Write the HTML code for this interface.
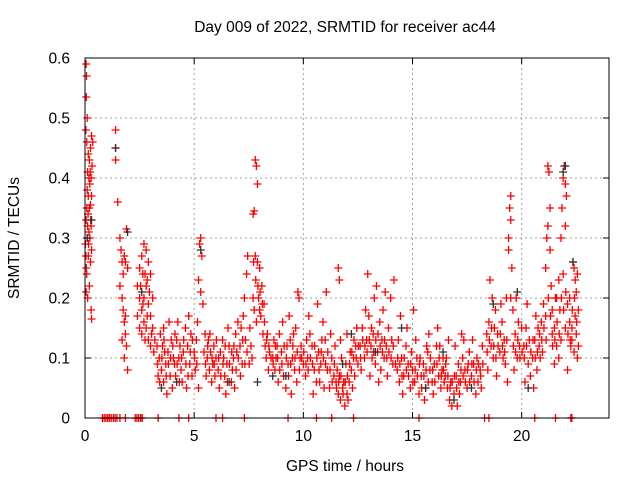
<!DOCTYPE html>
<html><head><meta charset="utf-8"><style>
html,body{margin:0;padding:0;background:#fff;}
svg{display:block;font-family:"Liberation Sans",sans-serif;}
</style></head><body>
<svg id="chart" width="640" height="480">
<text x="345" y="32" font-size="15.5" text-anchor="middle">Day 009 of 2022, SRMTID for receiver ac44</text>
<text x="345" y="471" font-size="15.5" text-anchor="middle">GPS time / hours</text>
<text x="19" y="238" font-size="15.5" text-anchor="middle" transform="rotate(-90 19 238)">SRMTID / TECUs</text>
<g id="grid"></g>
<g id="ticks"></g>
<g id="red"></g>
<g id="black"></g>
<rect x="85" y="58" width="524" height="360" fill="none" stroke="#000" stroke-width="1"/>
</svg>
<script>
const xTicks=[0,5,10,15,20];
const yTicks=[0,0.1,0.2,0.3,0.4,0.5,0.6];
const yTickLabels=["0","0.1","0.2","0.3","0.4","0.5","0.6"];
const redPts=[[0.05,.59],[0.07,.57],[0.06,.535],[0.04,.48],[0.1,.5],[0.08,.46],[0.15,.44],[0.2,.43],[0.25,.45],[0.3,.47],[0.12,.41],[0.18,.40],[0.22,.39],[0.28,.40],[0.1,.38],[0.15,.37],[0.3,.37],[0.08,.35],[0.2,.35],[0.25,.355],[0.05,.33],[0.12,.32],[0.18,.31],[0.28,.32],[0.1,.30],[0.22,.30],[0.3,.28],[0.04,.27],[0.15,.27],[0.25,.26],[0.08,.24],[0.2,.22],[0.05,.21],[0.12,.20],[0.28,.18],[0.3,.165],[0.02,.29],[0.35,.46],
[1.4,.48],[1.4,.45],[1.4,.43],[1.5,.36],
[1.6,.30],[1.65,.28],[1.7,.26],[1.75,.24],[1.8,.27],[1.85,.26],[1.9,.315],[1.95,.25],[1.6,.22],[1.7,.2],[1.75,.18],[1.8,.16],[1.85,.14],[1.9,.12],[1.8,.10],[1.95,.08],[1.7,.13],[1.85,.17],
[2.4,.22],[2.5,.25],[2.6,.27],[2.7,.29],[2.8,.28],[2.9,.26],[3.0,.24],[2.5,.2],[2.6,.18],[2.7,.2],[2.8,.22],[2.9,.19],[3.0,.17],[3.1,.15],[2.5,.15],[2.6,.14],[2.7,.16],[2.8,.15],[2.9,.13],[3.1,.2],[3.2,.13],[3.0,.12],[2.4,.17],[2.65,.24],[2.85,.23],
[3.3,.12],[3.4,.10],[3.5,.08],[3.6,.06],[3.7,.09],[3.8,.11],[3.9,.07],[4.0,.05],[4.1,.09],[4.2,.13],[4.3,.1],[4.4,.08],[3.45,.14],[3.55,.12],[3.65,.11],[3.75,.04],[3.85,.16],[3.95,.13],[4.05,.1],[4.15,.07],[4.25,.16],[4.35,.12],[4.45,.06],[3.35,.07],[4.5,.11],[3.6,.15],
[4.6,.15],[4.7,.12],[4.8,.09],[4.9,.07],[5.0,.11],[5.1,.13],[5.2,.23],[5.25,.29],[5.3,.30],[5.35,.27],[5.3,.21],[5.4,.19],[5.5,.14],[5.6,.1],[5.7,.08],[5.8,.06],[5.9,.12],[6.0,.1],[4.65,.05],[4.85,.14],[5.05,.08],[5.15,.16],[5.45,.11],[5.55,.07],[5.65,.13],[5.75,.11],[5.85,.09],[5.95,.07],[4.75,.17],[5.2,.05],
[6.1,.08],[6.2,.11],[6.3,.13],[6.4,.07],[6.5,.09],[6.6,.12],[6.7,.06],[6.8,.1],[6.9,.14],[7.0,.16],[7.1,.12],[7.2,.09],[7.3,.2],[7.4,.24],[7.45,.27],[6.15,.05],[6.35,.1],[6.55,.15],[6.75,.08],[6.95,.11],[7.15,.15],[7.35,.13],[6.45,.04],[7.25,.17],[6.85,.05],
[7.7,.34],[7.75,.345],[7.8,.43],[7.85,.42],[7.9,.39],[7.8,.27],[7.9,.26],[8.0,.25],[8.1,.22],[8.2,.19],[7.7,.2],[7.75,.18],[7.85,.16],[7.95,.2],[8.05,.17],[8.15,.14],[8.25,.12],[8.3,.1],[8.4,.08],[7.6,.12],[7.65,.1],[8.35,.14],[8.45,.11],[7.55,.15],[8.0,.18],
[8.6,.1],[8.7,.08],[8.8,.12],[8.9,.14],[9.0,.11],[9.1,.07],[9.2,.05],[9.3,.09],[9.4,.13],[9.5,.1],[9.6,.08],[9.7,.06],[9.75,.21],[9.8,.2],[9.9,.12],[10.0,.09],[8.65,.13],[8.85,.06],[9.05,.16],[9.25,.12],[9.45,.04],[9.65,.15],[9.85,.1],[8.75,.1],[9.35,.17],[9.55,.14],
[10.1,.07],[10.2,.1],[10.3,.14],[10.4,.12],[10.5,.08],[10.6,.06],[10.7,.11],[10.8,.09],[10.9,.16],[11.0,.13],[11.1,.08],[11.2,.05],[11.3,.1],[11.4,.07],[10.25,.17],[10.45,.04],[10.65,.19],[10.85,.13],[11.05,.21],[11.25,.14],[11.45,.12],[10.15,.13],[10.75,.06],[10.95,.05],
[11.5,.06],[11.6,.04],[11.7,.03],[11.8,.05],[11.9,.02],[12.0,.04],[12.1,.06],[12.2,.08],[12.3,.1],[12.4,.12],[11.55,.08],[11.65,.07],[11.75,.1],[11.85,.06],[11.95,.09],[12.05,.03],[12.15,.11],[12.25,.05],[12.35,.07],[12.45,.15],[11.6,.25],[11.65,.23],[12.0,.14],[11.7,.13],[12.5,.09],
[12.6,.12],[12.7,.15],[12.8,.1],[12.9,.13],[13.0,.17],[13.1,.12],[13.2,.14],[13.3,.09],[13.4,.11],[13.5,.16],[13.6,.13],[13.7,.1],[13.8,.12],[13.9,.15],[14.0,.2],[14.1,.09],[12.65,.08],[12.85,.18],[13.05,.07],[13.25,.2],[13.45,.06],[13.65,.18],[13.85,.07],[14.05,.13],[12.95,.24],[13.35,.22],[13.75,.21],[13.15,.1],[13.55,.08],[14.15,.23],
[14.3,.08],[14.4,.06],[14.5,.1],[14.6,.07],[14.7,.12],[14.8,.09],[14.9,.05],[15.0,.08],[15.1,.06],[15.2,.1],[15.3,.04],[15.4,.07],[15.5,.09],[15.6,.05],[15.7,.11],[15.8,.08],[15.9,.06],[16.0,.09],[16.1,.12],[16.2,.07],[16.3,.05],[16.4,.1],[14.35,.13],[14.55,.04],[14.75,.15],[14.95,.11],[15.15,.13],[15.35,.1],[15.55,.03],[15.75,.14],[15.95,.04],[16.15,.15],[16.35,.08],[14.45,.17],[15.05,.18],[15.65,.12],[16.25,.12],[16.45,.06],
[16.5,.07],[16.6,.05],[16.7,.03],[16.8,.02],[16.9,.04],[17.0,.07],[17.1,.09],[17.2,.06],[17.3,.1],[17.4,.08],[17.5,.05],[17.6,.11],[17.7,.07],[17.8,.09],[17.9,.04],[18.0,.06],[18.1,.08],[18.2,.12],[16.55,.1],[16.75,.06],[16.95,.12],[17.15,.04],[17.35,.13],[17.55,.09],[17.75,.13],[17.95,.1],[18.15,.05],[16.65,.13],[17.05,.02],[17.25,.14],
[18.4,.14],[18.5,.16],[18.6,.12],[18.7,.1],[18.8,.18],[18.9,.14],[19.0,.11],[19.1,.16],[19.2,.13],[19.3,.2],[19.4,.3],[19.45,.35],[19.5,.37],[19.4,.28],[19.5,.33],[19.55,.25],[19.6,.18],[19.7,.14],[19.8,.1],[19.9,.12],[20.0,.15],[18.45,.08],[18.65,.2],[18.85,.07],[19.05,.19],[19.25,.09],[19.35,.06],[19.65,.08],[19.85,.16],[18.55,.23],[18.75,.15],[19.15,.1],[19.5,.2],[19.75,.2],
[20.1,.12],[20.2,.15],[20.3,.09],[20.4,.07],[20.5,.1],[20.6,.13],[20.7,.08],[20.8,.12],[20.9,.16],[21.0,.19],[20.15,.06],[20.35,.13],[20.55,.05],[20.75,.15],[20.95,.11],[20.25,.19],[20.65,.17],[20.85,.1],
[21.1,.25],[21.15,.3],[21.2,.32],[21.25,.41],[21.2,.42],[21.3,.35],[21.3,.28],[21.35,.22],[21.4,.18],[21.5,.15],[21.6,.2],[21.7,.23],[21.8,.3],[21.85,.35],[21.9,.4],[21.95,.42],[22.0,.39],[22.05,.37],[22.0,.32],[21.9,.24],[21.8,.13],[21.7,.1],[21.6,.12],[21.5,.09],[21.4,.14],[21.1,.17],[22.1,.19],[22.0,.15],[21.75,.18],[22.1,.08],[21.55,.2],
[22.2,.2],[22.3,.15],[22.35,.26],[22.4,.25],[22.45,.23],[22.5,.21],[22.55,.24],[22.5,.14],[22.6,.12],[22.4,.11],[22.3,.13],[22.2,.16],[22.6,.18],[22.45,.17],[22.25,.12],[22.55,.1]];
const redExtra=[[0.14,.34],[0.24,.41],[0.16,.29],[0.26,.33],[0.06,.25],[0.32,.42],
[2.55,.22],[2.75,.24],[2.95,.21],[2.65,.19],[2.85,.17],[3.05,.14],[2.75,.13],[3.15,.11],
[3.32,.09],[3.42,.06],[3.52,.1],[3.62,.13],[3.72,.07],[3.82,.09],[3.92,.1],[4.02,.12],[4.12,.14],[4.22,.09],[4.32,.06],[4.42,.1],[4.52,.13],[4.62,.09],[4.72,.07],[4.82,.11],[4.92,.13],[5.02,.1],[5.12,.09],
[5.52,.09],[5.62,.12],[5.72,.14],[5.82,.1],[5.92,.09],[6.02,.13],[6.12,.1],[6.22,.07],[6.32,.09],[6.42,.12],[6.52,.06],[6.62,.09],[6.72,.11],[6.82,.12],[6.92,.08],[7.02,.1],[7.12,.07],[7.22,.13],[7.32,.09],[7.42,.11],[7.52,.09],
[7.72,.26],[7.82,.23],[7.92,.22],[8.02,.21],[8.12,.19],[8.22,.16],[8.32,.13],[8.42,.12],[8.52,.1],[8.62,.09],[8.72,.12],[8.82,.1],[8.92,.08],[9.02,.09],[9.12,.12],[9.22,.1],[9.32,.07],[9.42,.09],[9.52,.12],[9.62,.1],[9.72,.11],[9.82,.08],[9.92,.1],
[10.02,.11],[10.12,.09],[10.22,.08],[10.32,.1],[10.42,.09],[10.52,.12],[10.62,.1],[10.72,.08],[10.82,.11],[10.92,.1],[11.02,.09],[11.12,.11],[11.22,.08],[11.32,.06],[11.42,.09],
[11.52,.05],[11.62,.06],[11.72,.07],[11.82,.04],[11.92,.06],[12.02,.07],[12.12,.09],[12.22,.11],[12.32,.13],[12.42,.1],[12.52,.12],[12.62,.1],[12.72,.13],[12.82,.12],[12.92,.11],[13.02,.13],[13.12,.15],[13.22,.11],[13.32,.13],[13.42,.14],[13.52,.12],[13.62,.11],[13.72,.13],[13.82,.1],[13.92,.11],[14.02,.1],[14.12,.12],[14.22,.09],
[14.32,.1],[14.42,.09],[14.52,.07],[14.62,.1],[14.72,.08],[14.82,.07],[14.92,.09],[15.02,.06],[15.12,.08],[15.22,.07],[15.32,.09],[15.42,.05],[15.52,.07],[15.62,.08],[15.72,.06],[15.82,.1],[15.92,.08],[16.02,.06],[16.12,.09],[16.22,.1],[16.32,.07],[16.42,.08],
[16.52,.09],[16.62,.07],[16.72,.05],[16.82,.06],[16.92,.07],[17.02,.05],[17.12,.06],[17.22,.08],[17.32,.07],[17.42,.06],[17.52,.08],[17.62,.06],[17.72,.09],[17.82,.06],[17.92,.08],[18.02,.09],[18.12,.07],[18.22,.09],
[18.42,.11],[18.52,.13],[18.62,.15],[18.72,.12],[18.82,.1],[18.92,.12],[19.02,.14],[19.12,.12],[19.22,.11],[19.32,.13],[19.62,.12],[19.72,.11],[19.82,.13],[19.92,.1],[20.02,.11],[20.12,.1],[20.22,.12],[20.42,.11],[20.52,.13],[20.62,.1],[20.72,.11],[20.82,.14],[20.92,.13],[21.02,.15],[21.12,.13],[21.22,.2],[21.32,.17],[21.42,.12],[21.52,.13],[21.62,.16],[21.72,.14],[21.82,.2],[21.92,.18],[22.02,.21],[22.12,.14],[22.22,.13],[22.32,.18],[22.42,.2],[22.52,.16]];
const zeroTimes=[0.8,0.88,0.96,1.04,1.12,1.2,1.3,1.38,1.46,1.6,1.85,2.3,2.38,2.46,2.55,2.62,3.35,4.3,4.75,6.0,6.3,7.3,9.3,10.6,11.3,12.3,15.3,18.3,18.5,20.6,21.55,22.25,22.3];
const blackPts=[[0.1,.3],[0.3,.33],[1.4,.45],[1.95,.31],[2.6,.21],[3.5,.05],[4.2,.06],[5.3,.28],[7.9,.06],[9.2,.07],[12.2,.14],[13.3,.11],[14.5,.15],[15.6,.05],[16.4,.11],[17.7,.05],[18.7,.19],[19.8,.21],[21.9,.41],[22.0,.42],[22.35,.26],[20.3,.05],[16.9,.03],[11.8,.09],[8.6,.07],[6.6,.06]];

const X0=85,X1=609,Y0=418,Y1=58,XMAX=24,YMAX=0.6;
function xs(t){return X0+(X1-X0)*t/XMAX;}
function ys(v){return Y0-(Y0-Y1)*v/YMAX;}
const NS="http://www.w3.org/2000/svg";
function mk(tag,attrs,parent){const e=document.createElementNS(NS,tag);for(const k in attrs)e.setAttribute(k,attrs[k]);parent.appendChild(e);return e;}
const grid=document.getElementById('grid'),ticks=document.getElementById('ticks');
xTicks.forEach((t,i)=>{
  const x=xs(t);
  if(t>0){const g=mk('line',{x1:x,x2:x,y1:Y1,y2:Y0,stroke:'#a0a0a0','stroke-dasharray':'2,3'},grid);
  
  }
  const tk=mk('path',{d:`M${x},${Y0}v-6M${x},${Y1}v6`,stroke:'#000'},ticks);
  
  
  const lb=mk('text',{x:x,y:Y0+23,'font-size':'15.5','text-anchor':'middle'},ticks);
  lb.textContent=String(t);
  
  
});
yTicks.forEach((v,i)=>{
  const y=ys(v);
  if(v>0&&v<YMAX){const g=mk('line',{x1:X0,x2:X1,y1:y,y2:y,stroke:'#a0a0a0','stroke-dasharray':'2,3'},grid);
  
  }
  const tk=mk('path',{d:`M${X0},${y}h6M${X1},${y}h-6`,stroke:'#000'},ticks);
  
  
  const lb=mk('text',{x:X0-15,y:y+5.5,'font-size':'15.5','text-anchor':'end'},ticks);
  lb.textContent=yTickLabels[i];
  
  
});
function plus(g,t,v,color){
  const x=xs(t),y=ys(v);
  const p=mk('path',{d:`M${x-4},${y}h8M${x},${y-4}v8`,stroke:color,'stroke-width':'1.3',fill:'none'},g);
  
  
}
const red=document.getElementById('red'),black=document.getElementById('black');
redPts.forEach(p=>plus(red,p[0],p[1],'#ff0000'));
redExtra.forEach(p=>plus(red,p[0],p[1],'#ff0000'));
zeroTimes.forEach(t=>plus(red,t,0,'#ff0000'));
blackPts.forEach(p=>plus(black,p[0],p[1],'#303030'));
</script>
</body></html>
